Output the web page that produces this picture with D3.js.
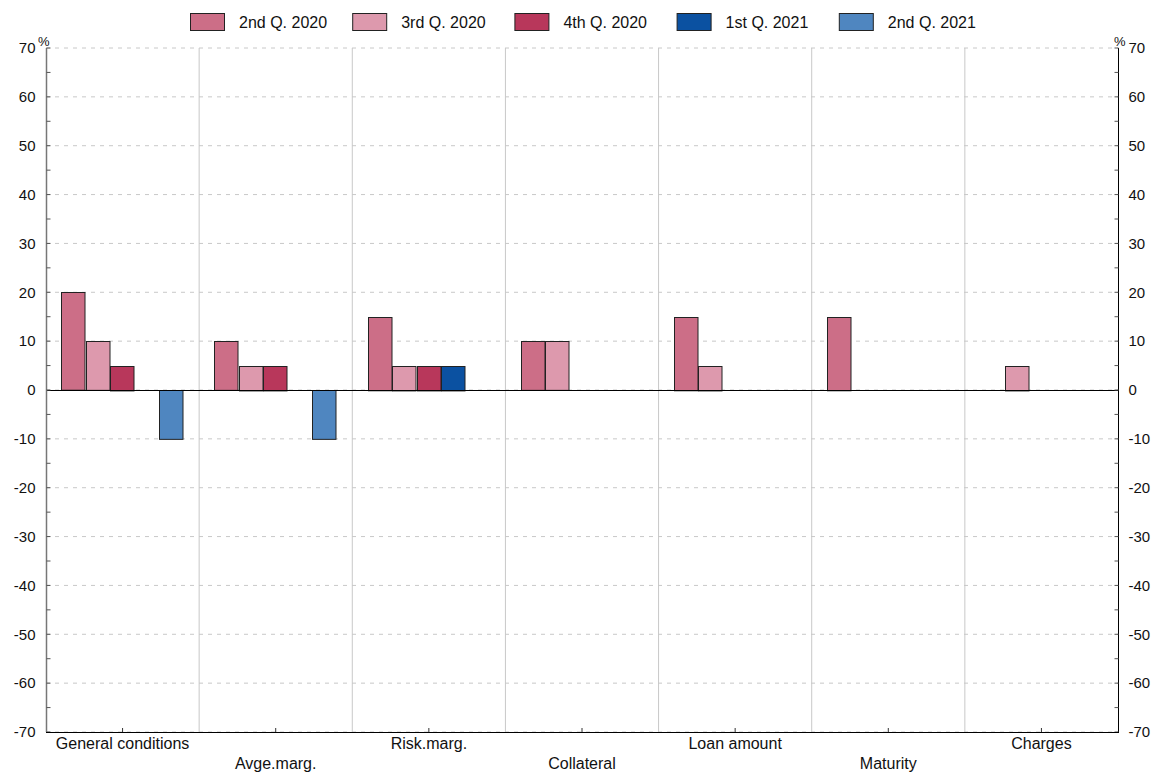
<!DOCTYPE html>
<html><head><meta charset="utf-8">
<script src="https://cdn.jsdelivr.net/npm/d3@7"></script>
<style>body{margin:0;background:#fff;} svg{display:block;font-family:"Liberation Sans",Arial,sans-serif;}</style>
</head><body>
<svg id="c" width="1157" height="772"></svg>
<script>
const categories = ["General conditions","Avge.marg.","Risk.marg.","Collateral","Loan amount","Maturity","Charges"];
const seriesNames = ["2nd Q. 2020","3rd Q. 2020","4th Q. 2020","1st Q. 2021","2nd Q. 2021"];
const colors = ["#cc6e87","#dd99ad","#b8375b","#0b51a1","#4f86c0"];
const s2q20 = [20,10,15,10,15,15,0];
const s3q20 = [10,5,5,10,5,0,5];
const s4q20 = [5,5,5,0,0,0,0];
const s1q21 = [0,0,5,0,0,0,0];
const s2q21 = [-10,-10,0,0,0,0,0];
const yTicks = [70,60,50,40,30,20,10,0,-10,-20,-30,-40,-50,-60,-70];
const seriesValues = [s2q20,s3q20,s4q20,s1q21,s2q21];

const svg = d3.select("#c");
const L = 46, R = 1118, T = 48, B = 732;
const x = d3.scaleBand().domain(categories).range([L,R]).padding(0);
const xi = d3.scaleBand().domain(seriesNames).range([0,x.bandwidth()]).paddingInner(0).paddingOuter(0.625);
const y = d3.scaleLinear().domain([-70,70]).range([B,T]);

// grid
svg.append("g").selectAll("line").data(yTicks).join("line")
  .attr("x1",L).attr("x2",R).attr("y1",d=>y(d)).attr("y2",d=>y(d))
  .attr("stroke","#c8c8c8").attr("stroke-dasharray","4,5").attr("stroke-width",1);
// dividers
svg.append("g").selectAll("line").data(categories.slice(1)).join("line")
  .attr("x1",d=>x(d)).attr("x2",d=>x(d)).attr("y1",T).attr("y2",B)
  .attr("stroke","#c8c8c8").attr("stroke-width",1);

// bars
const bars = [];
categories.forEach((c,ci)=>seriesNames.forEach((s,si)=>{
  const v = seriesValues[si][ci];
  if (v!==0) bars.push({c,s,v,si});
}));
svg.append("g").selectAll("rect").data(bars).join("rect")
  .attr("x",d=>Math.round(x(d.c)+xi(d.s))+0.5)
  .attr("width",xi.bandwidth()-1)
  .attr("y",d=>Math.round(y(Math.max(0,d.v)))+0.5)
  .attr("height",d=>Math.abs(y(d.v)-y(0)))
  .attr("fill",d=>colors[d.si]).attr("stroke","#222").attr("stroke-width",1);

// zero line
svg.append("line").attr("x1",L).attr("x2",R).attr("y1",Math.round(y(0))+0.5).attr("y2",Math.round(y(0))+0.5).attr("stroke","#000").attr("stroke-width",1);

// left axis
const minor = d3.range(-65,70,10);
const lAx = svg.append("g").attr("transform",`translate(${L+0.5},0)`);
lAx.append("line").attr("y1",T).attr("y2",B).attr("stroke","#777").attr("stroke-width",1.5);
lAx.selectAll(".mj").data(yTicks).join("line").attr("class","mj").attr("x1",0).attr("x2",4).attr("y1",d=>y(d)).attr("y2",d=>y(d)).attr("stroke","#555");
lAx.selectAll(".mn").data(minor).join("line").attr("class","mn").attr("x1",0).attr("x2",4).attr("y1",d=>y(d)).attr("y2",d=>y(d)).attr("stroke","#555");
lAx.selectAll("text").data(yTicks).join("text").attr("x",-11).attr("y",d=>y(d)).attr("dy","0.35em")
  .attr("text-anchor","end").attr("font-size",15).attr("fill","#111").text(d=>d);
svg.append("text").attr("x",L-8).attr("y",T-2).attr("font-size",13).attr("fill","#111").text("%");

// right axis
const rAx = svg.append("g").attr("transform",`translate(${R+0.5},0)`);
rAx.append("line").attr("y1",T).attr("y2",B).attr("stroke","#000").attr("stroke-width",1);
rAx.selectAll(".mj").data(yTicks).join("line").attr("class","mj").attr("x1",0).attr("x2",-4).attr("y1",d=>y(d)).attr("y2",d=>y(d)).attr("stroke","#555");
rAx.selectAll(".mn").data(minor).join("line").attr("class","mn").attr("x1",0).attr("x2",-4).attr("y1",d=>y(d)).attr("y2",d=>y(d)).attr("stroke","#555");
rAx.selectAll("text").data(yTicks).join("text").attr("x",10).attr("y",d=>y(d)).attr("dy","0.35em")
  .attr("text-anchor","start").attr("font-size",15).attr("fill","#111").text(d=>d);
svg.append("text").attr("x",R-4).attr("y",T-2).attr("font-size",13).attr("fill","#111").text("%");

// bottom axis
const bAx = svg.append("g");
bAx.append("line").attr("x1",L).attr("x2",R+1).attr("y1",B+0.5).attr("y2",B+0.5).attr("stroke","#000");
bAx.selectAll("line.t").data(categories).join("line").attr("class","t")
  .attr("x1",d=>x(d)+x.bandwidth()/2).attr("x2",d=>x(d)+x.bandwidth()/2).attr("y1",B).attr("y2",B-4).attr("stroke","#333");
bAx.selectAll("text").data(categories).join("text")
  .attr("x",d=>x(d)+x.bandwidth()/2).attr("y",(d,i)=>i%2===0?B+17:B+37)
  .attr("text-anchor","middle").attr("font-size",16).attr("fill","#111").text(d=>d);

// legend
const lg = svg.append("g").selectAll("g").data(seriesNames).join("g")
  .attr("transform",(d,i)=>`translate(${190+i*162.2},13)`);
lg.append("rect").attr("x",0.5).attr("y",0.5).attr("width",34).attr("height",17)
  .attr("fill",(d,i)=>colors[i]).attr("stroke","#222");
lg.append("text").attr("x",49).attr("y",15).attr("font-size",16).attr("fill","#111").text(d=>d);
</script>
</body></html>
